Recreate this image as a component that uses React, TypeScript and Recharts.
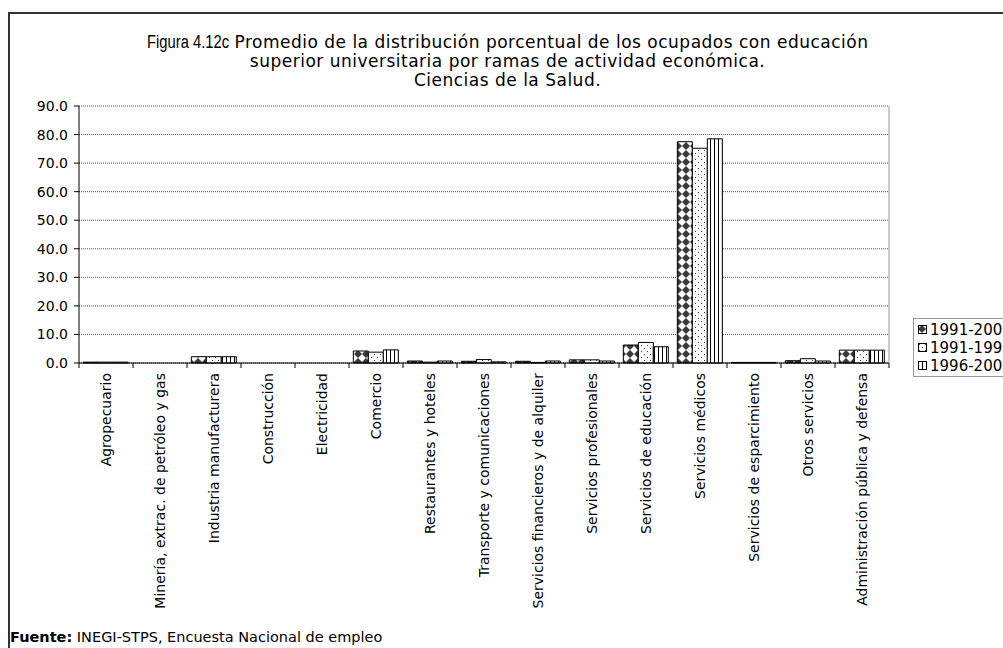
import React from "react";
import {
  BarChart,
  Bar,
  XAxis,
  YAxis,
  CartesianGrid,
  Legend,
} from "recharts";

// ramas de actividad
const categories = [
  "Agropecuario",
  "Minería, extrac. de petróleo y gas",
  "Industria manufacturera",
  "Construcción",
  "Electricidad",
  "Comercio",
  "Restaurantes y hoteles",
  "Transporte y comunicaciones",
  "Servicios financieros y de alquiler",
  "Servicios profesionales",
  "Servicios de educación",
  "Servicios médicos",
  "Servicios de esparcimiento",
  "Otros servicios",
  "Administración pública y defensa",
];

const seriesNames = ["1991-2000", "1991-1995", "1996-2000"];

const p1991_2000 = [0.3, 0, 2.2, 0, 0, 4.2, 0.7, 0.6, 0.6, 1.1, 6.3, 77.5, 0.2, 0.8, 4.5];
const p1991_1995 = [0.3, 0, 2.2, 0, 0, 3.8, 0.3, 1.2, 0.2, 1.1, 7.2, 75.2, 0.2, 1.5, 4.5];
const p1996_2000 = [0.3, 0, 2.2, 0, 0, 4.6, 0.7, 0.4, 0.7, 0.7, 5.7, 78.5, 0.2, 0.7, 4.5];

const yTicks = [0, 10, 20, 30, 40, 50, 60, 70, 80, 90];

const data = categories.map((name, i) => ({
  name,
  a: p1991_2000[i],
  b: p1991_1995[i],
  c: p1996_2000[i],
}));

const FONT = "'DejaVu Sans', Verdana, sans-serif";
const CHART_W = 1080;
const CHART_H = 620;
const MARGIN = { top: 92, right: 200, bottom: 21, left: 0 };
const Y_W = 69;
const PLOT_W = CHART_W - MARGIN.left - MARGIN.right - Y_W - 1;
const BAND = PLOT_W / categories.length;

const fills = ["url(#patDiamond)", "url(#patDots)", "url(#patStripes)"];

function XTick(props: any) {
  const { x, y, payload, index } = props;
  const half = BAND / 2;
  return (
    <g>
      <line x1={x - half} y1={y - 8} x2={x - half} y2={y - 3} stroke="#000" />
      {index === categories.length - 1 && (
        <line x1={x + half} y1={y - 8} x2={x + half} y2={y - 3} stroke="#000" />
      )}
      <text
        x={x}
        y={y + 2}
        transform={`rotate(-90 ${x} ${y + 2})`}
        textAnchor="end"
        dominantBaseline="central"
        fontSize={14}
        fontFamily={FONT}
        fill="#000"
      >
        {payload.value}
      </text>
    </g>
  );
}

function LegendBox() {
  return (
    <div
      style={{
        border: "1px solid #999",
        padding: "2px 0 1px 4px",
        width: 120,
        background: "#fff",
        fontFamily: FONT,
        fontSize: 15,
        lineHeight: "18px",
        textAlign: "left",
        whiteSpace: "nowrap",
      }}
    >
      {seriesNames.map((s, i) => (
        <div key={s} style={{ display: "flex", alignItems: "center" }}>
          <svg width={10} height={10} style={{ marginRight: 2 }}>
            <rect x={0.5} y={0.5} width={8} height={8} fill={fills[i]} stroke="#000" />
          </svg>
          <span>{s}</span>
        </div>
      ))}
    </div>
  );
}

export default function App() {
  return (
    <div
      style={{
        position: "absolute",
        left: 8,
        top: 12,
        width: 995,
        height: 636,
        borderTop: "2px solid #333",
        borderLeft: "2px solid #333",
        overflow: "hidden",
        boxSizing: "border-box",
        background: "#fff",
      }}
    >
      <div
        style={{
          position: "absolute",
          left: 0,
          top: 19,
          width: 995,
          textAlign: "center",
          fontFamily: FONT,
          fontSize: 17,
          letterSpacing: 0.5,
          lineHeight: "19px",
          color: "#000",
        }}
      >
        <div>
          {/* narrow face for the figure number */}
          <span
            style={{
              display: "inline-block",
              width: 82,
              whiteSpace: "nowrap",
              textAlign: "left",
              verticalAlign: "bottom",
            }}
          >
            <span
              style={{
                display: "inline-block",
                fontFamily: "'Liberation Sans', Arial, sans-serif",
                fontSize: 18,
                letterSpacing: 0,
                transform: "scaleX(0.82)",
                transformOrigin: "left center",
              }}
            >
              Figura 4.12c
            </span>
          </span>{" "}
          Promedio de la distribución porcentual de los ocupados con educación
        </div>
        <div>superior universitaria por ramas de actividad económica.</div>
        <div>Ciencias de la Salud.</div>
      </div>

      <div style={{ position: "absolute", left: 0, top: 0 }}>
        <BarChart
          width={CHART_W}
          height={CHART_H}
          data={data}
          margin={MARGIN}
          barCategoryGap="8%"
          barGap={0}
        >
          <defs>
            <pattern id="patDiamond" width={8} height={8} patternUnits="userSpaceOnUse">
              <rect width={8} height={8} fill="#fff" />
              <polygon points="4,0 8,4 4,8 0,4" fill="#3a3a3a" />
            </pattern>
            <pattern id="patDots" width={6} height={6} patternUnits="userSpaceOnUse">
              <rect width={6} height={6} fill="#fff" />
              <rect x={1} y={1} width={1} height={1} fill="#444" />
              <rect x={4} y={4} width={1} height={1} fill="#444" />
            </pattern>
            <pattern id="patStripes" width={4} height={4} patternUnits="userSpaceOnUse">
              <rect width={4} height={4} fill="#fff" />
              <rect x={0} y={0} width={1} height={4} fill="#000" />
            </pattern>
          </defs>
          <CartesianGrid vertical={false} stroke="#555" strokeDasharray="1 1" />
          <XAxis
            dataKey="name"
            interval={0}
            height={250}
            tickLine={false}
            axisLine={{ stroke: "#000" }}
            tick={(p: any) => <XTick {...p} />}
          />
          <XAxis
            xAxisId="top"
            orientation="top"
            dataKey="name"
            height={0}
            tick={false}
            tickLine={false}
            axisLine={{ stroke: "#999" }}
          />
          <YAxis
            width={Y_W}
            domain={[0, 90]}
            ticks={yTicks}
            interval={0}
            tickFormatter={(v: number) => v.toFixed(1)}
            tick={{ fontSize: 14, fontFamily: FONT, fill: "#000" }}
            tickSize={5}
            tickMargin={6}
            axisLine={{ stroke: "#000" }}
            tickLine={{ stroke: "#000" }}
          />
          <YAxis
            yAxisId="right"
            orientation="right"
            width={1}
            tick={false}
            tickLine={false}
            axisLine={{ stroke: "#999" }}
          />
          <Legend
            layout="vertical"
            align="center"
            verticalAlign="middle"
            content={() => <LegendBox />}
            wrapperStyle={{ position: "absolute", left: 903, top: 304, width: 140 }}
          />
          {["a", "b", "c"].map((k, i) => (
            <Bar
              key={k}
              dataKey={k}
              name={seriesNames[i]}
              fill={fills[i]}
              stroke="#000"
              strokeWidth={1}
              isAnimationActive={false}
            />
          ))}
        </BarChart>
      </div>

      <div
        style={{
          position: "absolute",
          left: 0,
          top: 615,
          fontFamily: FONT,
          fontSize: 14.5,
          color: "#000",
          whiteSpace: "nowrap",
        }}
      >
        <b>Fuente:</b> INEGI-STPS, Encuesta Nacional de empleo
      </div>
    </div>
  );
}
